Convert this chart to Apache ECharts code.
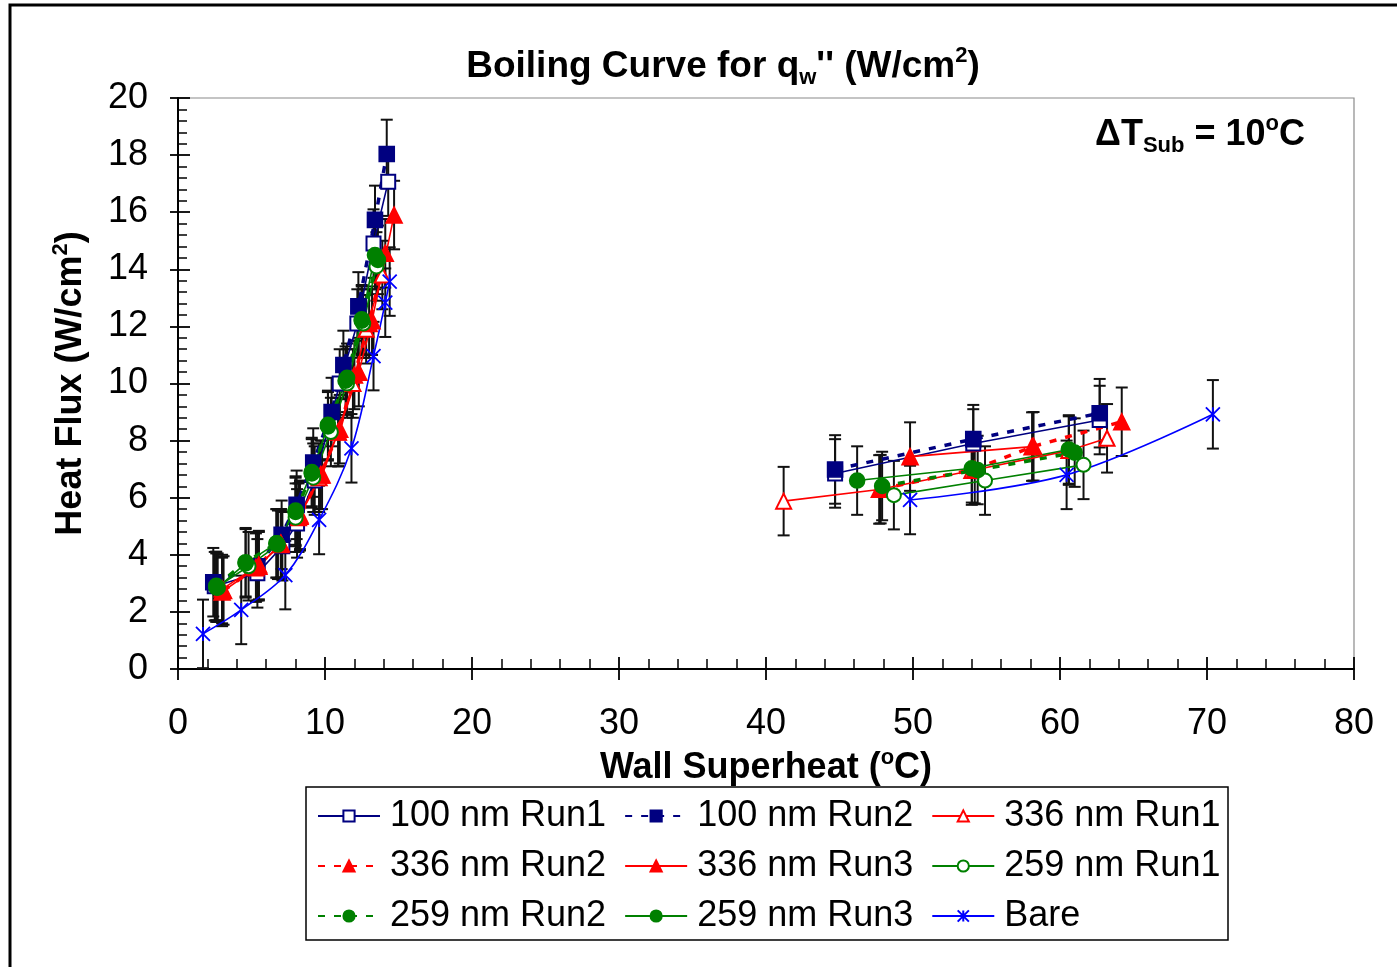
<!DOCTYPE html>
<html>
<head>
<meta charset="utf-8">
<title>Boiling Curve</title>
<script src="https://cdn.jsdelivr.net/npm/echarts@6/dist/echarts.min.js"></script>
<style>
  html, body { margin: 0; padding: 0; background: #fff; }
  #chart { width: 1397px; height: 967px; }
</style>
</head>
<body>
<div id="chart"></div>
<script>
// Boiling curves: wall superheat (°C) vs heat flux (W/cm²), subcooling 10 °C.
// Each run holds [superheat, heat flux] pairs; null separates the
// nucleate-boiling branch (left) from the film/transition branch (right).
const nm100Run1 = [[2.5, 2.9], [5.4, 3.35], [7.1, 4.3], [8.1, 5.1], [9.3, 6.6], [11.0, 10.0], [12.2, 12.1], [13.3, 14.9], [14.3, 17.07],
  null, [44.7, 6.85], [54.1, 7.9], [62.7, 8.72]];
const nm100Run2 = [[2.4, 3.04], [5.4, 3.6], [7.05, 4.7], [8.07, 5.75], [9.2, 7.23], [10.45, 9.0], [11.25, 10.65], [12.27, 12.7], [13.4, 15.73], [14.2, 18.04],
  null, [44.7, 6.99], [54.1, 8.05], [62.7, 8.96]];
const nm336Run1 = [[3.0, 2.8], [5.5, 3.64], [7.0, 4.35], [8.2, 5.3], [9.6, 6.7], [10.9, 8.3], [11.9, 10.0], [12.8, 11.9], [13.9, 13.8],
  null, [41.2, 5.88], [47.7, 6.29], [54.0, 6.95], [60.6, 7.65], [63.2, 8.08]];
const nm336Run2 = [[3.1, 2.75], [5.3, 3.55], [7.0, 4.4], [8.3, 5.35], [9.7, 6.8], [11.0, 8.4], [12.0, 10.3], [13.0, 12.1], [14.1, 14.56],
  null, [47.8, 6.3], [54.2, 7.0], [58.2, 7.8], [64.2, 8.66]];
const nm336Run3 = [[3.0, 2.7], [5.5, 3.6], [7.0, 4.4], [8.3, 5.4], [9.8, 6.8], [10.9, 8.3], [12.3, 10.4], [13.2, 12.2], [14.7, 15.9],
  null, [49.8, 7.44], [58.1, 7.79]];
const nm259Run1 = [[2.6, 2.85], [4.8, 3.6], [6.8, 4.35], [8.0, 5.3], [9.2, 6.7], [10.4, 8.3], [11.5, 10.0], [12.6, 12.1], [13.5, 14.1],
  null, [48.7, 6.09], [54.9, 6.6], [61.6, 7.15]];
const nm259Run2 = [[2.6, 2.91], [4.6, 3.74], [6.7, 4.4], [8.0, 5.5], [9.1, 6.85], [10.2, 8.55], [11.4, 10.1], [12.5, 12.2], [13.6, 14.33],
  null, [47.9, 6.41], [54.4, 6.97], [61.0, 7.58]];
const nm259Run3 = [[2.7, 2.85], [4.6, 3.7], [6.7, 4.4], [8.0, 5.55], [9.1, 6.9], [10.2, 8.5], [11.5, 10.2], [12.5, 12.25], [13.4, 14.5],
  null, [46.2, 6.6], [54.0, 7.03], [60.6, 7.69]];
const bare = [[1.7, 1.23], [4.3, 2.07], [7.3, 3.29], [9.6, 5.22], [11.8, 7.73], [13.3, 10.96], [14.1, 12.83], [14.4, 13.57],
  null, [49.8, 5.92], [60.45, 6.8], [70.4, 8.92]];

// Measurement uncertainty of the heat flux (± W/cm²)
const fluxUncertainty = 1.2;

const legendRows = [
  ['100 nm Run1', '100 nm Run2', '336 nm Run1'],
  ['336 nm Run2', '336 nm Run3', '259 nm Run1'],
  ['259 nm Run2', '259 nm Run3', 'Bare']
];

const NAVY = '#000080', RED = '#ff0000', GREEN = '#008000', BLUE = '#0000ff';
const FONT = 'Liberation Sans, Arial, sans-serif';

function toSeriesData(arr) {
  return arr.map(p => (p === null ? ['-', '-'] : p));
}

function lineSeries(name, arr, color, symbol, dashed, extra) {
  const s = {
    name: name,
    type: 'line',
    data: toSeriesData(arr),
    connectNulls: false,
    symbol: symbol,
    symbolSize: 14,
    color: color,
    itemStyle: { color: color, borderColor: color, borderWidth: 1.6 },
    lineStyle: dashed
      ? { color: color, width: 3.5, type: [7, 9] }
      : { color: color, width: 1.6, type: 'solid' },
    z: 3,
    animation: false
  };
  return Object.assign(s, extra || {});
}

const asterisk = 'path://M0,0L10,10M10,0L0,10M5,0L5,10';

const series = [
  lineSeries('100 nm Run1', nm100Run1, NAVY, 'emptyRect', false),
  lineSeries('100 nm Run2', nm100Run2, NAVY, 'rect', true, { symbolSize: 15 }),
  lineSeries('336 nm Run1', nm336Run1, RED, 'emptyTriangle', false, { symbolSize: 15 }),
  lineSeries('336 nm Run2', nm336Run2, RED, 'triangle', true, { symbolSize: 16 }),
  lineSeries('336 nm Run3', nm336Run3, RED, 'triangle', false, { symbolSize: 16 }),
  lineSeries('259 nm Run1', nm259Run1, GREEN, 'emptyCircle', false),
  lineSeries('259 nm Run2', nm259Run2, GREEN, 'circle', true, { symbolSize: 15 }),
  lineSeries('259 nm Run3', nm259Run3, GREEN, 'circle', false, { symbolSize: 15 }),
  lineSeries('Bare', bare, BLUE, asterisk, false, {
    smooth: 0.35,
    symbolSize: 14,
    itemStyle: { color: 'rgba(0,0,0,0)', borderColor: BLUE, borderWidth: 1.8 }
  })
];

// Error bars for every plotted point
const errorPoints = [];
[nm100Run1, nm100Run2, nm336Run1, nm336Run2, nm336Run3, nm259Run1, nm259Run2, nm259Run3, bare]
  .forEach(arr => arr.forEach(p => { if (p) errorPoints.push(p); }));

series.unshift({
  name: 'uncertainty',
  type: 'custom',
  data: errorPoints,
  encode: { x: 0, y: 1 },
  silent: true,
  z: 1,
  animation: false,
  renderItem: function (params, api) {
    const x = api.value(0), y = api.value(1);
    const top = api.coord([x, y + fluxUncertainty]);
    const bot = api.coord([x, y - fluxUncertainty]);
    const half = 6;
    const st = { stroke: '#111', lineWidth: 2 };
    return {
      type: 'group',
      children: [
        { type: 'line', shape: { x1: top[0], y1: top[1], x2: bot[0], y2: bot[1] }, style: st },
        { type: 'line', shape: { x1: top[0] - half, y1: top[1], x2: top[0] + half, y2: top[1] }, style: st },
        { type: 'line', shape: { x1: bot[0] - half, y1: bot[1], x2: bot[0] + half, y2: bot[1] }, style: st }
      ]
    };
  }
});

const legends = legendRows.map((row, i) => ({
  data: row,
  left: 317,
  top: 796 + i * 50,
  orient: 'horizontal',
  padding: 0,
  itemGap: 18,
  itemWidth: 62,
  itemHeight: 14,
  selectedMode: false,
  textStyle: { fontFamily: FONT, fontSize: 36, color: '#000', lineHeight: 40, padding: [0, 0, 0, 5] }
}));

const chart = echarts.init(document.getElementById('chart'), null, { renderer: 'canvas' });

chart.setOption({
  backgroundColor: '#fff',
  animation: false,
  grid: {
    left: 178, right: 43, top: 98, bottom: 298,
    show: true, borderColor: '#8a8a8a', borderWidth: 1.2, backgroundColor: 'transparent'
  },
  legend: legends,
  xAxis: [{
    type: 'value', min: 0, max: 80, interval: 10,
    name: '{t|Wall Superheat (}{sup|o}{t|C)}',
    nameLocation: 'middle', nameGap: 78,
    nameTextStyle: {
      rich: {
        t: { fontFamily: FONT, fontSize: 36, fontWeight: 'bold', color: '#000', lineHeight: 42 },
        sup: { fontFamily: FONT, fontSize: 22, fontWeight: 'bold', color: '#000', verticalAlign: 'top', lineHeight: 22 }
      }
    },
    axisLine: { show: true, onZero: false, lineStyle: { color: '#000', width: 2 } },
    axisTick: { show: true, inside: true, length: 12, lineStyle: { color: '#000', width: 1.8 } },
    minorTick: { show: true, splitNumber: 5, length: 10, lineStyle: { color: '#000', width: 1.5 } },
    axisLabel: { fontFamily: FONT, fontSize: 36, color: '#000', margin: 37 },
    splitLine: { show: false }
  }, {
    // outer half of the major ticks
    type: 'value', min: 0, max: 80, interval: 10, position: 'bottom',
    axisLine: { show: false }, axisLabel: { show: false }, splitLine: { show: false },
    axisTick: { show: true, inside: false, length: 11, lineStyle: { color: '#000', width: 1.8 } }
  }],
  yAxis: [{
    type: 'value', min: 0, max: 20, interval: 2,
    name: '{t|Heat Flux (W/cm}{sup|2}{t|)}',
    nameLocation: 'middle', nameGap: 86, nameRotate: 90,
    nameTextStyle: {
      rich: {
        t: { fontFamily: FONT, fontSize: 36, fontWeight: 'bold', color: '#000', lineHeight: 42 },
        sup: { fontFamily: FONT, fontSize: 22, fontWeight: 'bold', color: '#000', verticalAlign: 'top', lineHeight: 22 }
      }
    },
    axisLine: { show: true, onZero: false, lineStyle: { color: '#000', width: 2 } },
    axisTick: { show: true, inside: true, length: 12, lineStyle: { color: '#000', width: 1.8 } },
    minorTick: { show: true, splitNumber: 5, length: 9, lineStyle: { color: '#000', width: 1.5 } },
    axisLabel: { fontFamily: FONT, fontSize: 36, color: '#000', margin: 30 },
    splitLine: { show: false }
  }, {
    type: 'value', min: 0, max: 20, interval: 2, position: 'left',
    axisLine: { show: false }, axisLabel: { show: false }, splitLine: { show: false },
    axisTick: { show: true, inside: false, length: 8, lineStyle: { color: '#000', width: 1.8 } }
  }],
  series: series,
  graphic: [
    {
      type: 'rect', silent: true, z: 0,
      shape: { x: 10, y: 5, width: 1400, height: 975 },
      style: { fill: 'none', stroke: '#000', lineWidth: 3 }
    },
    {
      type: 'rect', silent: true, z: 0,
      shape: { x: 306, y: 787, width: 922, height: 153 },
      style: { fill: 'none', stroke: '#000', lineWidth: 1.5 }
    },
    {
      type: 'text', x: 723, y: 67, z: 10,
      style: {
        text: '{t|Boiling Curve for q}{sub|w}{t|\'\' (W/cm}{sup|2}{t|)}',
        align: 'center', verticalAlign: 'middle',
        rich: {
          t: { fontFamily: FONT, fontSize: 37, fontWeight: 'bold', fill: '#000', lineHeight: 44 },
          sub: { fontFamily: FONT, fontSize: 22, fontWeight: 'bold', fill: '#000', verticalAlign: 'bottom', lineHeight: 22 },
          sup: { fontFamily: FONT, fontSize: 22, fontWeight: 'bold', fill: '#000', verticalAlign: 'top', lineHeight: 22 }
        }
      }
    },
    {
      type: 'text', x: 1305, y: 135, z: 10,
      style: {
        text: '{t|ΔT}{sub|Sub}{t| = 10}{sup|o}{t|C}',
        align: 'right', verticalAlign: 'middle',
        rich: {
          t: { fontFamily: FONT, fontSize: 36, fontWeight: 'bold', fill: '#000', lineHeight: 44 },
          sub: { fontFamily: FONT, fontSize: 22, fontWeight: 'bold', fill: '#000', verticalAlign: 'bottom', lineHeight: 22 },
          sup: { fontFamily: FONT, fontSize: 22, fontWeight: 'bold', fill: '#000', verticalAlign: 'top', lineHeight: 22 }
        }
      }
    }
  ]
});
</script>
</body>
</html>
